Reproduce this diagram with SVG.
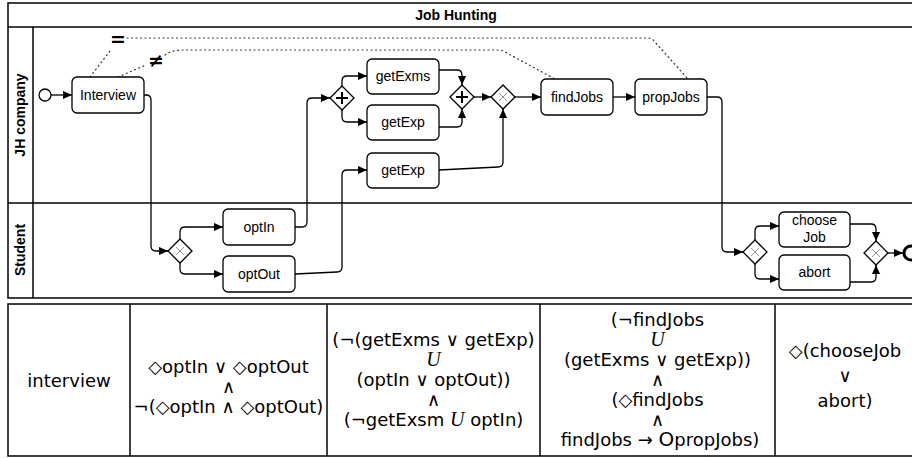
<svg xmlns="http://www.w3.org/2000/svg" width="912" height="458" viewBox="0 0 912 458">
<style>
.frame{fill:none;stroke:#000;stroke-width:1.5}
.task rect{fill:#fff;stroke:#000;stroke-width:1.3}
.task text,.lbl{font-family:"Liberation Sans",Arial,sans-serif;font-size:14px;fill:#000;text-anchor:middle}
.bold{font-weight:bold}
.gw path.d{fill:#fff;stroke:#000;stroke-width:1.3}
.gw path.x{stroke:#777;stroke-width:0.8;fill:none}
.gw path.p{stroke:#000;stroke-width:2;fill:none}
.conn path{fill:none;stroke:#000;stroke-width:1.3;marker-end:url(#arr)}
.dot{fill:none;stroke:#333;stroke-width:1.2;stroke-dasharray:1 3.5;stroke-linecap:round}
.sym{font-family:"DejaVu Sans",sans-serif;font-size:19px;font-weight:bold;text-anchor:middle}
.tbl text{font-family:"DejaVu Sans",sans-serif;font-size:18px;fill:#000;text-anchor:middle}
.U{font-family:"Liberation Serif",serif;font-style:italic;font-size:20px}
</style>
<defs>
<marker id="arr" viewBox="0 0 10 10" refX="10" refY="5" markerWidth="9" markerHeight="9" orient="auto" markerUnits="userSpaceOnUse">
<path d="M0,0.5 L10,5 L0,9.5 z" fill="#000"/>
</marker>
</defs>
<rect width="912" height="458" fill="#fff"/>

<g id="pool">
<rect class="frame" x="8" y="3" width="910" height="295"/>
<line class="frame" x1="8" y1="27" x2="918" y2="27"/>
<line class="frame" x1="33" y1="27" x2="33" y2="298"/>
<line class="frame" x1="8" y1="203" x2="918" y2="203"/>
<text class="lbl bold" x="456" y="20">Job Hunting</text>
</g>
<g id="lane-jh"><text class="lbl bold" transform="translate(25,115) rotate(-90)">JH company</text></g>
<g id="lane-student"><text class="lbl bold" transform="translate(25,250) rotate(-90)">Student</text></g>

<g id="annotations">
<path class="dot" d="M90,77 L110,51"/>
<text class="sym" x="118" y="46">=</text>
<path class="dot" d="M127,38 L648,38 Q652,38 655,42 L688,79"/>
<path class="dot" d="M118,77 L146,65"/>
<text class="sym" x="156" y="67">≠</text>
<path class="dot" d="M165,55 Q172,50 182,50 L498,50 Q502,50 505,52 L555,79"/>
</g>

<g id="connectors" class="conn">
<path d="M51,95 L72,95"/>
<path d="M144,95 L146,95 Q151,95 151,100 L151,246 Q151,251 156,251 L168,251"/>
<path d="M180,239 L180,232 Q180,227 185,227 L223,227"/>
<path d="M180,263 L180,269 Q180,274 185,274 L223,274"/>
<path d="M295,227 L302,227 Q307,227 307,222 L307,103 Q307,98 312,98 L330,98"/>
<path d="M295,274 L337,272 Q342,272 342,267 L342,175 Q342,170 347,170 L367,170"/>
<path d="M342,86 L342,81 Q342,76 347,76 L367,76"/>
<path d="M342,110 L342,117 Q342,122 347,122 L367,122"/>
<path d="M439,70 L457,70 Q462,70 462,75 L462,85"/>
<path d="M439,127 L457,127 Q462,127 462,122 L462,109"/>
<path d="M474,97 L491,97"/>
<path d="M515,97 L541,97"/>
<path d="M439,170 L498,167 Q503,167 503,162 L503,109"/>
<path d="M613,97 L635,97"/>
<path d="M707,97 L717,97 Q722,97 722,102 L722,247 Q722,252 727,252 L743,252"/>
<path d="M755,240 L755,231 Q755,226 760,226 L779,226"/>
<path d="M755,264 L755,274 Q755,279 760,279 L779,279"/>
<path d="M850,224 L871,224 Q876,224 876,229 L876,241"/>
<path d="M850,282 L871,282 Q876,282 876,277 L876,265"/>
<path d="M888,253 L903,253"/>
</g>

<g id="start"><circle cx="45" cy="95" r="6" fill="#fff" stroke="#000" stroke-width="1.3"/></g>
<g id="end"><circle cx="911" cy="253" r="7" fill="#fff" stroke="#000" stroke-width="3"/></g>

<g id="interview" class="task"><rect x="72" y="77" width="72" height="36" rx="5"/><text x="108" y="100">Interview</text></g>
<g id="getExms" class="task"><rect x="367" y="59" width="72" height="35" rx="5"/><text x="403" y="81">getExms</text></g>
<g id="getExp1" class="task"><rect x="367" y="105" width="72" height="35" rx="5"/><text x="403" y="127">getExp</text></g>
<g id="getExp2" class="task"><rect x="367" y="153" width="72" height="35" rx="5"/><text x="403" y="175">getExp</text></g>
<g id="findJobs" class="task"><rect x="541" y="79" width="72" height="36" rx="5"/><text x="577" y="102">findJobs</text></g>
<g id="propJobs" class="task"><rect x="635" y="79" width="72" height="36" rx="5"/><text x="671" y="102">propJobs</text></g>
<g id="optIn" class="task"><rect x="223" y="209" width="72" height="36" rx="5"/><text x="259" y="232">optIn</text></g>
<g id="optOut" class="task"><rect x="223" y="256" width="72" height="36" rx="5"/><text x="259" y="279">optOut</text></g>
<g id="chooseJob" class="task"><rect x="779" y="212" width="71" height="35" rx="5"/><text x="814.5" y="225">choose</text><text x="814.5" y="242">Job</text></g>
<g id="abort" class="task"><rect x="779" y="255" width="71" height="35" rx="5"/><text x="814.5" y="277">abort</text></g>

<g id="gw-xor1" class="gw"><path class="d" d="M180,239 L192,251 L180,263 L168,251 z"/><path class="x" d="M176,247 L184,255 M184,247 L176,255"/></g>
<g id="gw-and-split" class="gw"><path class="d" d="M342,86 L354,98 L342,110 L330,98 z"/><path class="p" d="M342,92 L342,104 M336,98 L348,98"/></g>
<g id="gw-and-join" class="gw"><path class="d" d="M462,85 L474,97 L462,109 L450,97 z"/><path class="p" d="M462,91 L462,103 M456,97 L468,97"/></g>
<g id="gw-xor2" class="gw"><path class="d" d="M503,85 L515,97 L503,109 L491,97 z"/><path class="x" d="M499,93 L507,101 M507,93 L499,101"/></g>
<g id="gw-xor3" class="gw"><path class="d" d="M755,240 L767,252 L755,264 L743,252 z"/><path class="x" d="M751,248 L759,256 M759,248 L751,256"/></g>
<g id="gw-xor4" class="gw"><path class="d" d="M876,241 L888,253 L876,265 L864,253 z"/><path class="x" d="M872,249 L880,257 M880,249 L872,257"/></g>

<g id="table" class="tbl">
<rect class="frame" x="8" y="304" width="910" height="152"/>
<line class="frame" x1="130" y1="304" x2="130" y2="456"/>
<line class="frame" x1="327" y1="304" x2="327" y2="456"/>
<line class="frame" x1="540" y1="304" x2="540" y2="456"/>
<line class="frame" x1="775" y1="304" x2="775" y2="456"/>
<text x="69" y="387">interview</text>
<text x="228.5" y="373">◇optIn ∨ ◇optOut</text>
<text x="228.5" y="393">∧</text>
<text x="228.5" y="413">¬(◇optIn ∧ ◇optOut)</text>
<text x="433.5" y="346">(¬(getExms ∨ getExp)</text>
<text x="433.5" y="366"><tspan class="U">U</tspan></text>
<text x="433.5" y="386">(optIn ∨ optOut))</text>
<text x="433.5" y="406">∧</text>
<text x="433.5" y="426">(¬getExsm <tspan class="U">U</tspan> optIn)</text>
<text x="657.5" y="326">(¬findJobs</text>
<text x="657.5" y="346"><tspan class="U">U</tspan></text>
<text x="657.5" y="366">(getExms ∨ getExp))</text>
<text x="657.5" y="386">∧</text>
<text x="657.5" y="406">(◇findJobs</text>
<text x="657.5" y="426">∧</text>
<text x="660" y="446">findJobs → <tspan font-size="20px">O</tspan>propJobs)</text>
<text x="845" y="357">◇(chooseJob</text>
<text x="845" y="382">∨</text>
<text x="845" y="407">abort)</text>
</g>
</svg>
